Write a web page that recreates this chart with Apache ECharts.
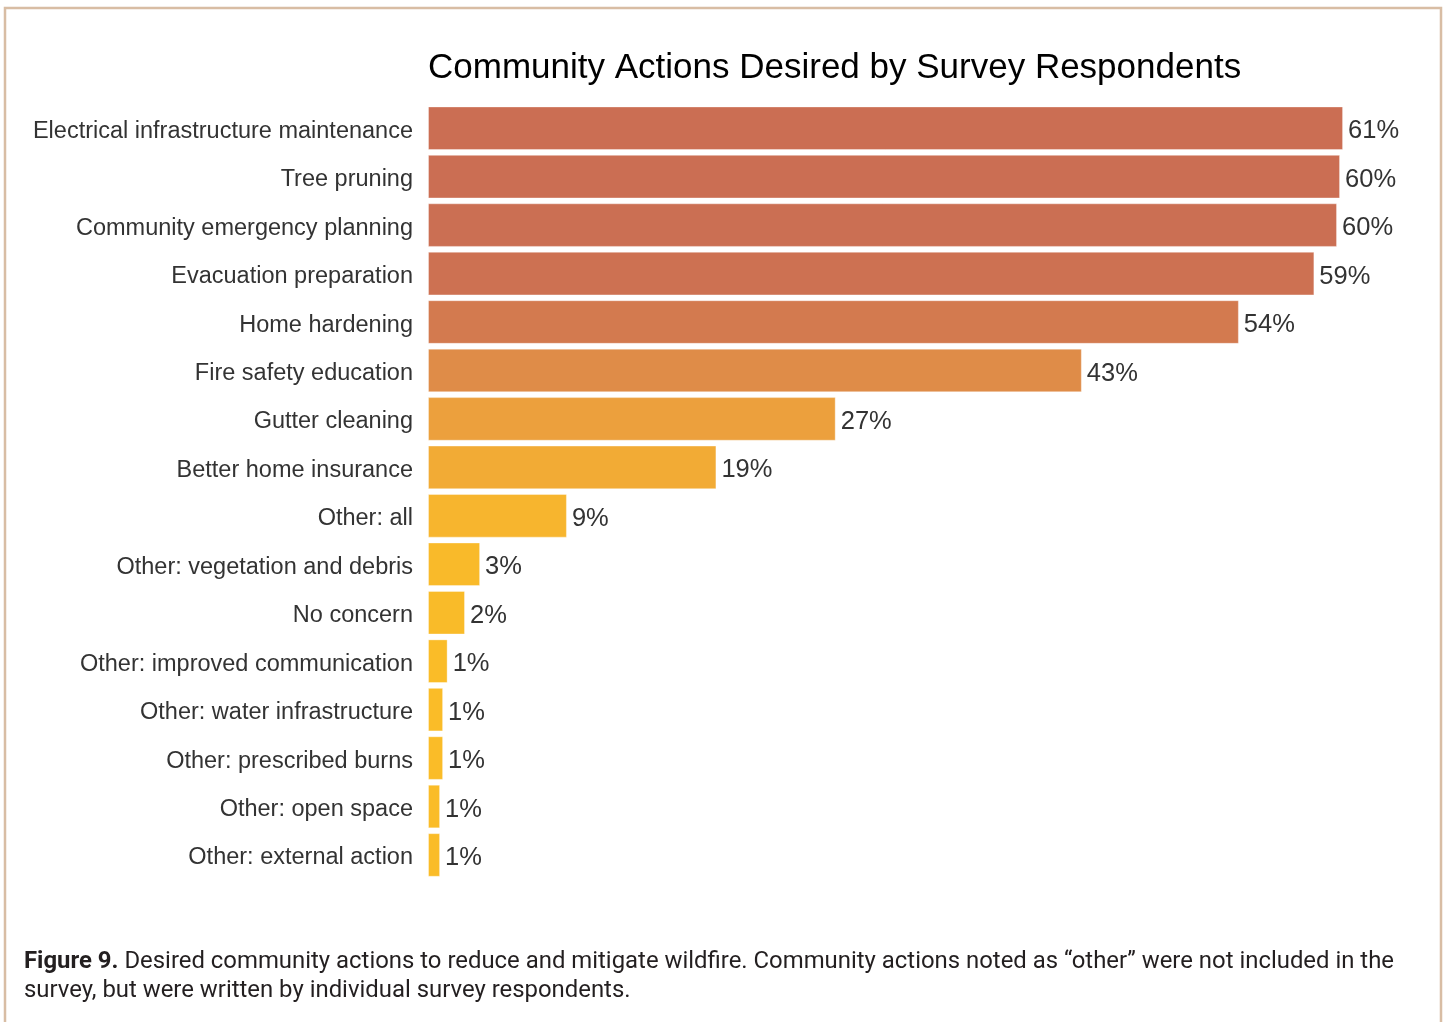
<!DOCTYPE html>
<html>
<head>
<meta charset="utf-8">
<title>Community Actions Desired by Survey Respondents</title>
<script src="https://cdn.jsdelivr.net/npm/echarts@6/dist/echarts.min.js"></script>
<style>
  html, body { margin: 0; padding: 0; background: #ffffff; }
  #chart { width: 1445px; height: 1022px; }
</style>
</head>
<body>
<div id="chart"></div>
<script>
// Share of respondents (%) wanting each community action, top to bottom
const categories = [
  'Electrical infrastructure maintenance',
  'Tree pruning',
  'Community emergency planning',
  'Evacuation preparation',
  'Home hardening',
  'Fire safety education',
  'Gutter cleaning',
  'Better home insurance',
  'Other: all',
  'Other: vegetation and debris',
  'No concern',
  'Other: improved communication',
  'Other: water infrastructure',
  'Other: prescribed burns',
  'Other: open space',
  'Other: external action'
];
const percents = [60.6, 60.4, 60.2, 58.7, 53.7, 43.3, 27.0, 19.1, 9.2, 3.45, 2.45, 1.3, 1.0, 1.0, 0.8, 0.8];

const titleText = 'Community Actions Desired by Survey Respondents';
const captionLead = 'Figure 9.';
const captionLine1 = ' Desired community actions to reduce and mitigate wildfire. Community actions noted as \u201Cother\u201D were not included in the';
const captionLine2 = 'survey, but were written by individual survey respondents.';

const SANS = '"Liberation Sans", Arial, Helvetica, sans-serif';

const chart = echarts.init(document.getElementById('chart'), null, { renderer: 'canvas' });

chart.setOption({
  backgroundColor: '#ffffff',
  animation: false,
  title: {
    text: titleText,
    left: 423,
    top: 46,
    textStyle: {
      fontFamily: SANS,
      fontSize: 35,
      fontWeight: 'normal',
      color: '#000000'
    }
  },
  grid: {
    left: 428,
    top: 104,
    width: 15.1 * 65,
    height: 16 * 48.45,
    containLabel: false
  },
  visualMap: {
    show: false,
    type: 'continuous',
    dimension: 0,
    min: 0.8,
    max: 60.6,
    inRange: { color: ['#FABC28', '#F4B032', '#E99B40', '#DD894A', '#CB6E53'] }
  },
  xAxis: {
    type: 'value',
    min: 0,
    max: 65,
    show: false
  },
  yAxis: {
    type: 'category',
    inverse: true,
    data: categories,
    axisLine: { show: false },
    axisTick: { show: false },
    axisLabel: {
      margin: 15,
      formatter: v => '{c|' + v + '}',
      rich: {
        c: {
          padding: [6, 0, 0, 0],
          fontFamily: SANS,
          fontSize: 23.5,
          color: '#333333'
        }
      }
    }
  },
  series: [{
    type: 'bar',
    data: percents,
    barCategoryGap: '10%',
    itemStyle: {
      borderColor: 'rgba(255,255,255,0.35)',
      borderWidth: 1
    },
    label: {
      show: true,
      position: 'right',
      distance: 5,
      offset: [0, 3],
      fontFamily: SANS,
      fontSize: 25.5,
      color: '#333333',
      formatter: p => Math.round(p.value) + '%'
    }
  }],
  graphic: [
    {
      type: 'rect',
      shape: { x: 5, y: 8, width: 1436, height: 1040 },
      style: { fill: 'none', stroke: '#D8BDA4', lineWidth: 2.5 },
      silent: true
    },
    {
      type: 'text',
      left: 24,
      top: 950,
      style: {
        text: '{b|' + captionLead + '}{r|' + captionLine1 + '}\n{r|' + captionLine2 + '}',
        rich: {
          b: { fontFamily: 'Roboto, sans-serif', fontWeight: 'bold', fontSize: 23.9, lineHeight: 29, fill: '#231F20' },
          r: { fontFamily: 'Roboto, sans-serif', fontSize: 23.9, lineHeight: 29, fill: '#231F20' }
        }
      }
    }
  ]
});
</script>
</body>
</html>
